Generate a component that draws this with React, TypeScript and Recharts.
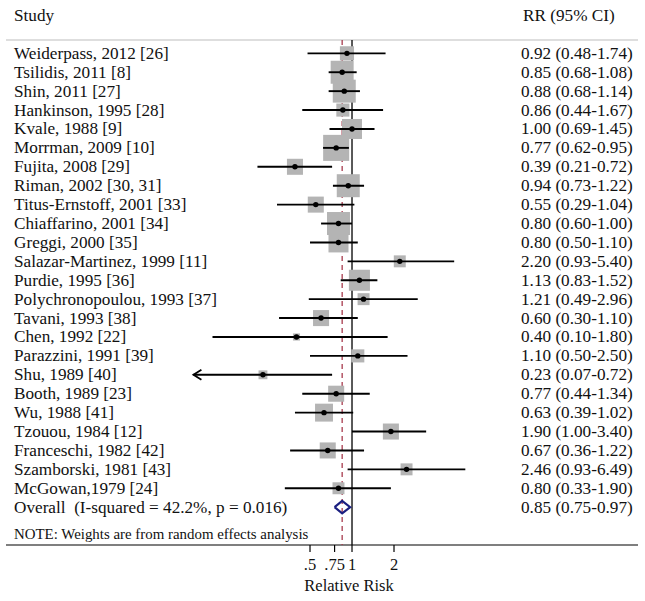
import React from 'react';
import { ScatterChart, Scatter, XAxis, YAxis, ReferenceLine } from 'recharts';

// ---------- data ----------
const studies = [
  'Weiderpass, 2012 [26]',
  'Tsilidis, 2011 [8]',
  'Shin, 2011 [27]',
  'Hankinson, 1995 [28]',
  'Kvale, 1988 [9]',
  'Morrman, 2009 [10]',
  'Fujita, 2008 [29]',
  'Riman, 2002 [30, 31]',
  'Titus-Ernstoff, 2001 [33]',
  'Chiaffarino, 2001 [34]',
  'Greggi, 2000 [35]',
  'Salazar-Martinez, 1999 [11]',
  'Purdie, 1995 [36]',
  'Polychronopoulou, 1993 [37]',
  'Tavani, 1993 [38]',
  'Chen, 1992 [22]',
  'Parazzini, 1991 [39]',
  'Shu, 1989 [40]',
  'Booth, 1989 [23]',
  'Wu, 1988 [41]',
  'Tzouou, 1984 [12]',
  'Franceschi, 1982 [42]',
  'Szamborski, 1981 [43]',
  'McGowan,1979 [24]',
];
const rr = [0.92, 0.85, 0.88, 0.86, 1.0, 0.77, 0.39, 0.94, 0.55, 0.8, 0.8, 2.2, 1.13, 1.21, 0.6, 0.4, 1.1, 0.23, 0.77, 0.63, 1.9, 0.67, 2.46, 0.8];
const ciLow = [0.48, 0.68, 0.68, 0.44, 0.69, 0.62, 0.21, 0.73, 0.29, 0.6, 0.5, 0.93, 0.83, 0.49, 0.3, 0.1, 0.5, 0.07, 0.44, 0.39, 1.0, 0.36, 0.93, 0.33];
const ciHigh = [1.74, 1.08, 1.14, 1.67, 1.45, 0.95, 0.72, 1.22, 1.04, 1.0, 1.1, 5.4, 1.52, 2.96, 1.1, 1.8, 2.5, 0.72, 1.34, 1.02, 3.4, 1.22, 6.49, 1.9];
// estimated study weights (%), shown as square areas
const weights = [2.8, 7.4, 7.4, 2.4, 5.6, 9.5, 3.6, 7.4, 3.6, 7.4, 5.6, 2.0, 6.2, 2.0, 3.6, 0.7, 2.4, 1.1, 3.6, 4.5, 3.6, 3.6, 2.0, 2.0];
const overallLabel = 'Overall  (I-squared = 42.2%, p = 0.016)';
const overallRR = 0.85;
const overallLow = 0.75;
const overallHigh = 0.97;
const headerStudy = 'Study';
const headerRR = 'RR (95% CI)';
const noteText = 'NOTE: Weights are from random effects analysis';
const xTicks = [0.5, 0.75, 1, 2];
const xTickLabels = ['.5', '.75', '1', '2'];
const xTitle = 'Relative Risk';

// ---------- layout constants ----------
const W = 645;
const H = 601;
const X_MIN = 0.00331;
const X_MAX = 112.2;
const X_CLIP = 0.073; // lower display limit of CIs (arrow drawn beyond)
const Y_MIN = -2.82;
const Y_MAX = 26.0;
const HEADER_ROW = -2;
const TOP_LINE_ROW = -0.705;
const OVERALL_ROW = studies.length;
const NOTE_ROW = 25.4;
const DIAMOND_HALF = 0.33;
const FONT = '"Liberation Serif", "Times New Roman", serif';
const SQUARE_K = 8.45;
const LEFT_TEXT_X = 14;
const RIGHT_TEXT_X = 521;
const ROW_FONT = 17.2;
const NOTE_FONT = 14.9;

const fmt = (v: number) => v.toFixed(2);
const rrText = (r: number, l: number, h: number) => `${fmt(r)} (${fmt(l)}-${fmt(h)})`;

const studyRows = studies.map((s, i) => ({ x: rr[i], y: i, w: weights[i] }));

const labelRows = [
  { x: 1, y: HEADER_ROW, left: headerStudy, right: headerRR, small: false, rx: RIGHT_TEXT_X + 2 },
  ...studies.map((s, i) => ({ x: 1, y: i, left: s, right: rrText(rr[i], ciLow[i], ciHigh[i]), small: false, rx: RIGHT_TEXT_X })),
  { x: 1, y: OVERALL_ROW, left: overallLabel, right: rrText(overallRR, overallLow, overallHigh), small: false, rx: RIGHT_TEXT_X },
  { x: 1, y: NOTE_ROW, left: noteText, right: '', small: true, rx: RIGHT_TEXT_X },
];

const ciSeries = studies.map((s, i) => {
  const clipped = ciLow[i] < X_CLIP;
  return [
    { x: clipped ? X_CLIP : ciLow[i], y: i, arrow: clipped },
    { x: ciHigh[i], y: i, arrow: false },
  ];
});

const diamondData = [
  { x: overallLow, y: OVERALL_ROW },
  { x: overallRR, y: OVERALL_ROW - DIAMOND_HALF },
  { x: overallHigh, y: OVERALL_ROW },
  { x: overallRR, y: OVERALL_ROW + DIAMOND_HALF },
  { x: overallLow, y: OVERALL_ROW },
];

const nullLine = [
  { x: 1, y: TOP_LINE_ROW },
  { x: 1, y: Y_MAX },
];
const overallLine = [
  { x: overallRR, y: TOP_LINE_ROW },
  { x: overallRR, y: Y_MAX },
];

const Empty = () => <g />;

const SquareShape = (props: any) => {
  const { cx, cy, payload } = props;
  const s = SQUARE_K * Math.sqrt(payload.w);
  return <rect x={cx - s / 2} y={cy - s / 2} width={s} height={s} fill="#b4b4b4" />;
};

const DotShape = (props: any) => {
  const { cx, cy } = props;
  return <circle cx={cx} cy={cy} r={2.7} fill="#000" />;
};

const ArrowShape = (props: any) => {
  const { cx, cy, payload } = props;
  if (!payload.arrow) return <g />;
  return (
    <path
      d={`M ${cx + 8} ${cy - 5} L ${cx} ${cy} L ${cx + 8} ${cy + 5}`}
      stroke="#000"
      strokeWidth={1.8}
      fill="none"
    />
  );
};

const textStyle: React.CSSProperties = { whiteSpace: 'pre' };

const LabelShape = (props: any) => {
  const { cy, payload } = props;
  const fs = payload.small ? NOTE_FONT : ROW_FONT;
  return (
    <g>
      <text x={LEFT_TEXT_X} y={cy} fontFamily={FONT} fontSize={fs} fill="#111" dominantBaseline="central" style={textStyle}>
        {payload.left}
      </text>
      {payload.right ? (
        <text x={payload.rx} y={cy} fontFamily={FONT} fontSize={fs} fill="#111" dominantBaseline="central" style={textStyle}>
          {payload.right}
        </text>
      ) : null}
    </g>
  );
};

const XTick = (props: any) => {
  const { x, y, payload } = props;
  const idx = xTicks.indexOf(payload.value);
  return (
    <text x={x} y={y + 10} textAnchor="middle" dominantBaseline="central" fontFamily={FONT} fontSize={16.5} fill="#111">
      {xTickLabels[idx]}
    </text>
  );
};

export default function App() {
  return (
    <div style={{ position: 'absolute', left: 0, top: 0, width: W, height: H, background: '#fff' }}>
      <ScatterChart width={W} height={H} margin={{ top: 0, right: 7, bottom: 0, left: 6 }}>
        <XAxis
          type="number"
          dataKey="x"
          scale="log"
          domain={[X_MIN, X_MAX]}
          allowDataOverflow
          ticks={xTicks}
          interval={0}
          tick={<XTick />}
          tickSize={7}
          height={56}
          axisLine={{ stroke: '#000', strokeWidth: 1.2 }}
          tickLine={{ stroke: '#000', strokeWidth: 1.2 }}
          label={() => (
            <text x={349} y={585} textAnchor="middle" dominantBaseline="central" fontFamily={FONT} fontSize={16.5} fill="#111">
              {xTitle}
            </text>
          )}
        />
        <YAxis type="number" dataKey="y" domain={[Y_MIN, Y_MAX]} reversed allowDataOverflow width={0} hide />
        <ReferenceLine y={TOP_LINE_ROW} stroke="#bdbdbd" strokeWidth={1.2} />
        <Scatter data={labelRows} isAnimationActive={false} shape={<LabelShape />} />
        <Scatter
          data={overallLine}
          isAnimationActive={false}
          shape={<Empty />}
          line={{ stroke: '#a83c4e', strokeWidth: 1.3, strokeDasharray: '5 4' }}
        />
        <Scatter
          data={nullLine}
          isAnimationActive={false}
          shape={<Empty />}
          line={{ stroke: '#000', strokeWidth: 1.3 }}
        />
        <Scatter data={studyRows} isAnimationActive={false} shape={<SquareShape />} />
        {ciSeries.map((d, i) => (
          <Scatter
            key={`ci-${i}`}
            data={d}
            isAnimationActive={false}
            shape={<ArrowShape />}
            line={{ stroke: '#000', strokeWidth: 1.9 }}
          />
        ))}
        <Scatter data={studyRows} isAnimationActive={false} shape={<DotShape />} />
        <Scatter
          data={diamondData}
          isAnimationActive={false}
          shape={<Empty />}
          line={{ stroke: '#1b1f80', strokeWidth: 2.2, fill: 'none' }}
        />
      </ScatterChart>
    </div>
  );
}
